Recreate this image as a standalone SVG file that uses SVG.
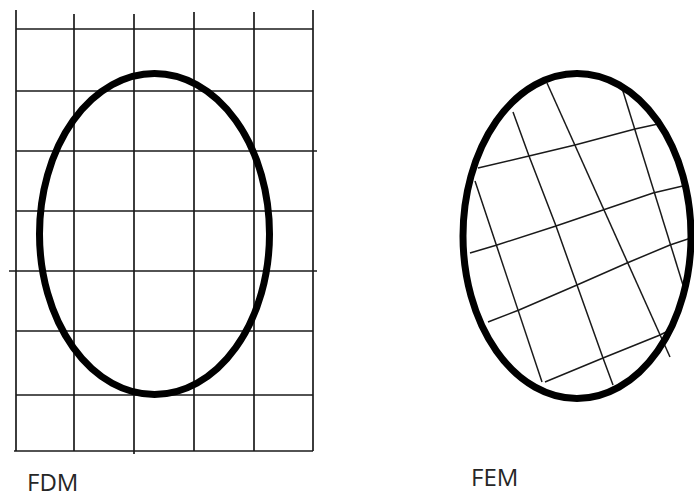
<svg xmlns="http://www.w3.org/2000/svg" width="694" height="498" viewBox="0 0 694 498">
<style>
.grid{stroke:#1a1a1a;stroke-width:1.7;fill:none}
.mesh{stroke:#1a1a1a;stroke-width:1.5;fill:none}
.body{stroke:#000;stroke-width:7;fill:none}
.lbl{font-family:"Open Sans","Liberation Sans",sans-serif;font-size:24px;fill:#262626}
</style>
<rect width="694" height="498" fill="#fff"/>
<g id="fdm">
<g id="fdm-grid" class="grid">
<line x1="16" y1="10" x2="16" y2="451"/>
<line x1="74" y1="14" x2="74" y2="451"/>
<line x1="134" y1="14" x2="134" y2="454"/>
<line x1="194" y1="12" x2="194" y2="451"/>
<line x1="254" y1="12" x2="254" y2="451"/>
<line x1="313" y1="10" x2="313" y2="451"/>
<line x1="16" y1="29" x2="313" y2="29"/>
<line x1="16" y1="91" x2="313" y2="91"/>
<line x1="16" y1="151" x2="317" y2="151"/>
<line x1="16" y1="211" x2="313" y2="211"/>
<line x1="9" y1="271" x2="317" y2="271"/>
<line x1="16" y1="331" x2="313" y2="331"/>
<line x1="16" y1="395" x2="313" y2="395"/>
<line x1="14" y1="451" x2="313" y2="451"/>
</g>
<ellipse id="fdm-body" class="body" cx="154.5" cy="234" rx="115" ry="160.5"/>
<text class="lbl" x="27" y="491">FDM</text>
</g>
<g id="fem">
<g id="fem-mesh" class="mesh">
<line x1="475" y1="181" x2="542" y2="382"/>
<polyline points="513,112 529,156 556,226 577,285 603,358 613,385"/>
<line x1="547" y1="83" x2="670" y2="357"/>
<line x1="622" y1="88" x2="683" y2="285"/>
<polyline points="478,168 529,156 575,145 635,129 658,124"/>
<polyline points="470,253 497,245 556,226 603,210 653,193 687,185"/>
<polyline points="488,322 519,310 577,285 627,263 670,245 694,237"/>
<polyline points="545,382 603,358 660,335 670,330"/>
</g>
<ellipse id="fem-body" class="body" cx="577" cy="236" rx="114" ry="162.5"/>
<text class="lbl" x="471" y="486">FEM</text>
</g>
</svg>
